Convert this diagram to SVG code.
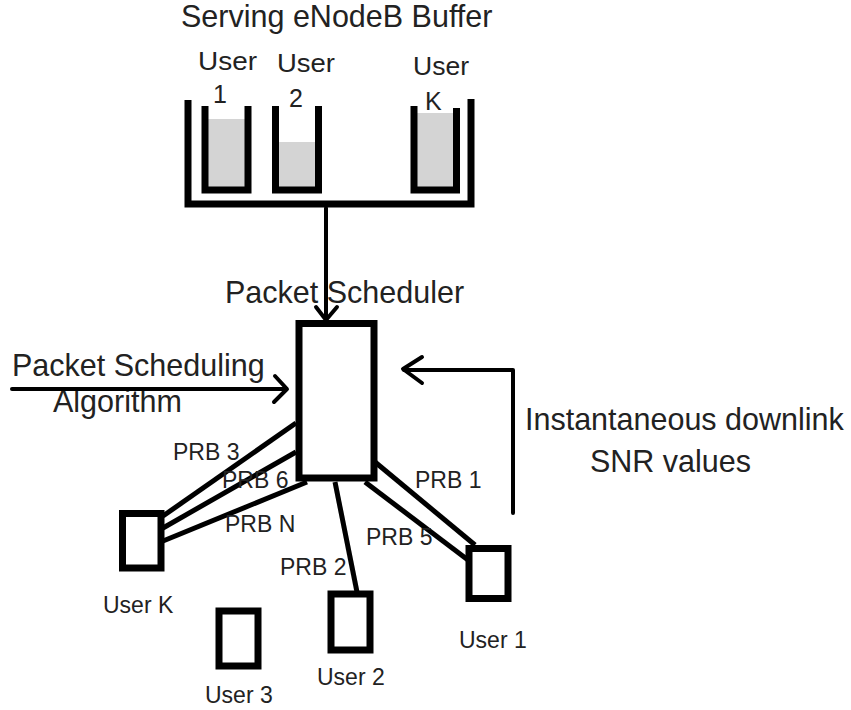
<svg xmlns="http://www.w3.org/2000/svg" width="851" height="710" viewBox="0 0 851 710">
<style>
  text { font-family: "Liberation Sans", Arial, Helvetica, sans-serif; fill: #222; }
  .big { font-size: 30.5px; }
  .usr { font-size: 25px; }
  .lbl { font-size: 23px; }
  .box { fill: #fff; stroke: #000; stroke-width: 7; }
  .cup { fill: none; stroke: #000; stroke-width: 7; stroke-linejoin: miter; }
  .fill { fill: #d4d4d4; }
  .ln { fill: none; stroke: #000; stroke-width: 5; }
  .arr { fill: none; stroke: #000; stroke-width: 4; stroke-linecap: round; stroke-linejoin: round; }
</style>
<rect width="851" height="710" fill="#fff"/>

<g id="buffer">
  <text class="big" x="181" y="27">Serving eNodeB Buffer</text>
  <rect class="fill" x="208" y="119" width="37" height="68"/>
  <rect class="fill" x="279" y="142" width="36" height="45"/>
  <rect class="fill" x="417" y="113" width="36" height="74"/>
  <path class="cup" d="M205,106 V190 H248 V106"/>
  <path class="cup" d="M275.5,106 V190 H318.5 V106"/>
  <path class="cup" d="M414,106 V190 H456.5 V108"/>
  <path class="cup" d="M188,100 V204 H471 V99" stroke-width="8"/>
  <text class="usr" x="198" y="70" textLength="59" lengthAdjust="spacingAndGlyphs">User</text>
  <text class="usr" x="213" y="103">1</text>
  <text class="usr" x="277" y="72" textLength="58" lengthAdjust="spacingAndGlyphs">User</text>
  <text class="usr" x="289" y="107">2</text>
  <text class="usr" x="413" y="75" textLength="56" lengthAdjust="spacingAndGlyphs">User</text>
  <text class="usr" x="425" y="110">K</text>
</g>

<g id="scheduler">
  <rect class="box" x="299" y="323.5" width="75" height="154.5"/>
  <text class="big" x="225" y="303">Packet Scheduler</text>
</g>

<g id="algorithm">
  <text class="big" x="12" y="376">Packet Scheduling</text>
  <text class="big" x="53" y="412">Algorithm</text>
</g>

<g id="snr">
  <text class="big" x="525" y="430">Instantaneous downlink</text>
  <text class="big" x="590" y="472">SNR values</text>
</g>

<g id="user1">
  <rect class="box" x="469" y="548.5" width="39" height="50"/>
  <text class="lbl" x="459" y="648">User 1</text>
</g>
<g id="user2">
  <rect class="box" x="331" y="594" width="39" height="56"/>
  <text class="lbl" x="317" y="685">User 2</text>
</g>
<g id="user3">
  <rect class="box" x="219" y="611" width="39" height="55"/>
  <text class="lbl" x="205" y="703">User 3</text>
</g>
<g id="userK">
  <rect class="box" x="122.5" y="513.5" width="38.5" height="54.5"/>
  <text class="lbl" x="103" y="613">User K</text>
</g>

<g id="connectors">
  <line class="arr" x1="326" y1="208" x2="326" y2="319"/>
  <polyline class="arr" points="316,307 326,320 337,307"/>
  <line class="arr" x1="12" y1="389" x2="286" y2="389"/>
  <polyline class="arr" points="275,376 287,389 274,402"/>
  <polyline class="arr" points="513,513 513,370 404,370"/>
  <polyline class="arr" points="422,357 403,369 422,383"/>
  <line class="ln" x1="296" y1="423" x2="163" y2="516"/>
  <line class="ln" x1="296" y1="452" x2="163" y2="528"/>
  <line class="ln" x1="307" y1="482" x2="163" y2="541"/>
  <line class="ln" x1="335" y1="482" x2="357" y2="592"/>
  <line class="ln" x1="375" y1="462" x2="475" y2="545"/>
  <line class="ln" x1="365" y1="482" x2="468" y2="560"/>
  <text class="lbl" x="173" y="460">PRB 3</text>
  <text class="lbl" x="222" y="488">PRB 6</text>
  <text class="lbl" x="225" y="532">PRB N</text>
  <text class="lbl" x="415" y="488">PRB 1</text>
  <text class="lbl" x="366" y="545">PRB 5</text>
  <text class="lbl" x="280" y="575">PRB 2</text>
</g>
</svg>
